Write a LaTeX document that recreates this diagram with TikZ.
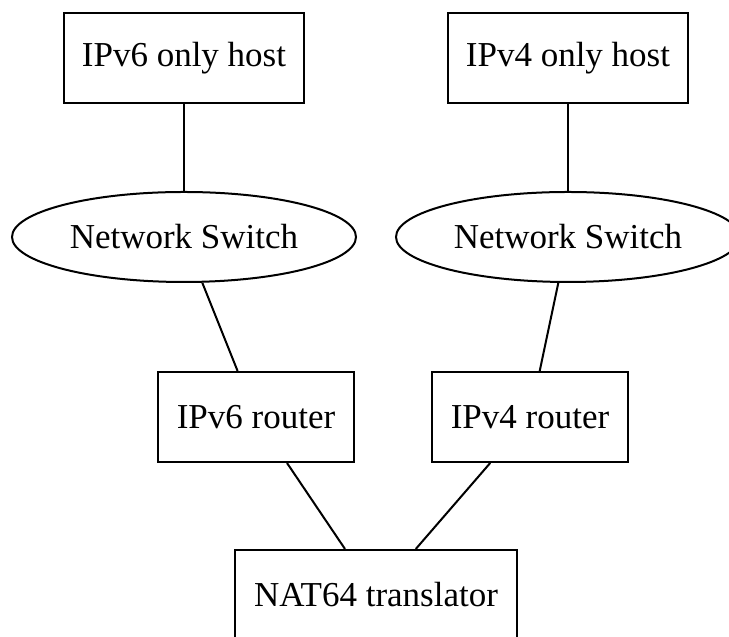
\documentclass[tikz,border=0pt]{standalone}
\usepackage{fontspec}
\setmainfont{Liberation Serif}
\usetikzlibrary{shapes.geometric}
\tikzstyle{hostbox}=[rectangle,draw,line width=0.8pt,minimum width=96pt,minimum height=36pt,inner sep=0pt]
\tikzstyle{switchnode}=[ellipse,draw,line width=0.8pt,minimum width=137.6pt,minimum height=36pt,inner sep=0pt]
\tikzstyle{routerbox}=[rectangle,draw,line width=0.8pt,minimum width=78.4pt,minimum height=36pt,inner sep=0pt]
\tikzstyle{natbox}=[rectangle,draw,line width=0.8pt,minimum width=112.8pt,minimum height=36pt,inner sep=0pt]
\tikzstyle{undirectededge} = [draw,line width=0.8pt]

\begin{document}
\begin{tikzpicture}[x=0.4pt,y=-0.4pt,font=\fontsize{14}{17}\selectfont]
    \useasboundingbox (0,0) rectangle (729,637);

    \foreach \pos/ \name/ \txt in {{(184,58)/hostsix/IPv6 only host}, {(568,58)/hostfour/IPv4 only host}}
        \node[hostbox] (\name) at \pos {\txt};
    \foreach \pos/ \name in {{(184,237)/switchsix}, {(568,237)/switchfour}}
        \node[switchnode] (\name) at \pos {Network Switch};
    \foreach \pos/ \name/ \txt in {{(256,417)/routersix/IPv6 router}, {(530,417)/routerfour/IPv4 router}}
        \node[routerbox] (\name) at \pos {\txt};
    \node[natbox] (nat) at (376,595) {NAT64 translator};

    % links between the nodes
    \foreach \source/ \dest in {hostsix/switchsix, hostfour/switchfour, switchsix/routersix, switchfour/routerfour, routersix/nat, routerfour/nat}
        \path[undirectededge] (\source) -- (\dest);
\end{tikzpicture}
\end{document}
